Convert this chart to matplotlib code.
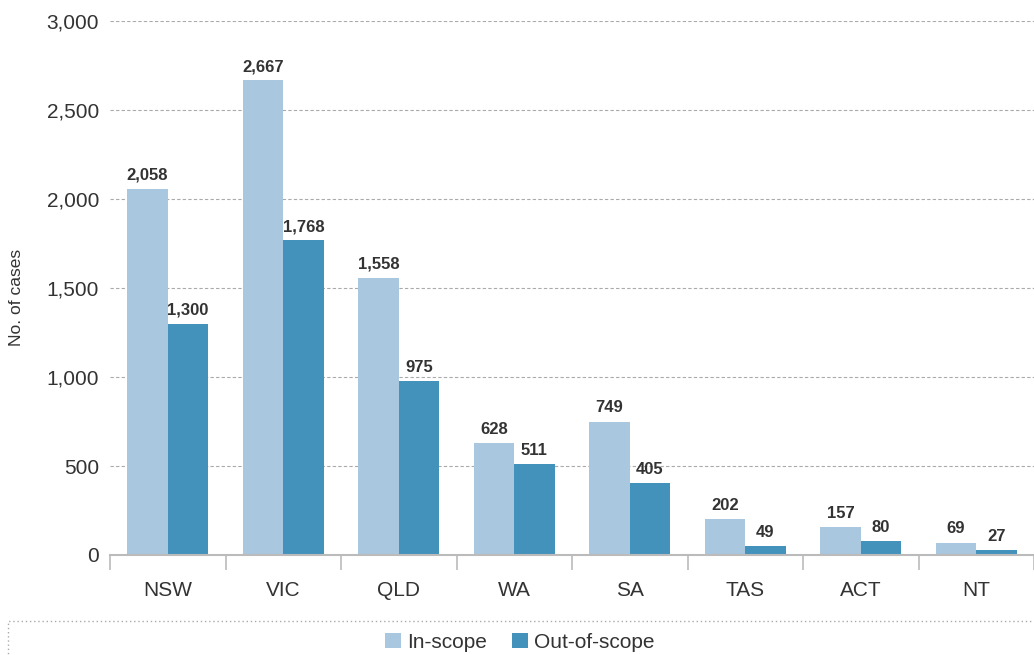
import matplotlib.pyplot as plt
import numpy as np
from matplotlib.patches import Rectangle

states = ["NSW", "VIC", "QLD", "WA", "SA", "TAS", "ACT", "NT"]
in_scope = [2058, 2667, 1558, 628, 749, 202, 157, 69]
out_scope = [1300, 1768, 975, 511, 405, 49, 80, 27]

LIGHT = "#a9c7df"
DARK = "#4392bb"
TEXT = "#333333"

plt.rcParams["font.family"] = ["Liberation Sans", "DejaVu Sans"]

fig = plt.figure(figsize=(10.34, 6.55), dpi=100)
ax = fig.add_axes([110 / 1034, 1 - 555 / 655, 1 - 110 / 1034, (555 - 21) / 655])

x = np.arange(len(states))
w = 0.35
b1 = ax.bar(x - w / 2, in_scope, w, color=LIGHT, label="In-scope", zorder=3)
b2 = ax.bar(x + w / 2, out_scope, w, color=DARK, label="Out-of-scope", zorder=3)

for bars, vals in ((b1, in_scope), (b2, out_scope)):
    for r, v in zip(bars, vals):
        ax.text(r.get_x() + r.get_width() / 2, v + 35, f"{v:,}",
                ha="center", va="bottom", fontsize=12, fontweight="bold",
                color=TEXT)

ax.set_xlim(-0.5, len(states) - 0.5)
ax.set_ylim(0, 3000)
ax.set_yticks(np.arange(0, 3001, 500))
ax.set_yticklabels([f"{t:,}" for t in range(0, 3001, 500)])
ax.set_xticks(x)
ax.set_xticklabels(states)
ax.set_xticks(np.arange(-0.5, len(states)), minor=True)
ax.tick_params(axis="x", which="major", length=0, pad=19, labelsize=15, colors=TEXT)
ax.tick_params(axis="x", which="minor", length=11, color="#bbbbbb", width=1.2)
ax.tick_params(axis="y", length=0, pad=8, labelsize=15, colors=TEXT)

ax.grid(axis="y", linestyle=(0, (3, 2)), color="#aaaaaa", linewidth=0.8, zorder=0)
for s in ("top", "right", "left"):
    ax.spines[s].set_visible(False)
ax.spines["bottom"].set_color("#bbbbbb")
ax.spines["bottom"].set_linewidth(1.5)
ax.spines["bottom"].set_zorder(4)

fig.text(17 / 1034, 1 - 297 / 655, "No. of cases", rotation=90, ha="center",
         va="center", fontsize=12.5, color=TEXT)

# dotted frame around the legend strip
fig.patches.append(Rectangle((8 / 1034, -0.05), 1.02, 1 - 621 / 655 + 0.05,
                             transform=fig.transFigure, fill=False,
                             edgecolor="#aaaaaa", linestyle=(0, (1, 2)),
                             linewidth=1))

fig.legend(handles=[b1, b2], loc="center", bbox_to_anchor=(520 / 1034, 1 - 642 / 655),
           ncol=2, frameon=False, fontsize=15, handlelength=0.75, handleheight=0.75,
           handletextpad=0.3, columnspacing=1.2, labelcolor=TEXT)

fig.savefig("out.png", dpi=100)
